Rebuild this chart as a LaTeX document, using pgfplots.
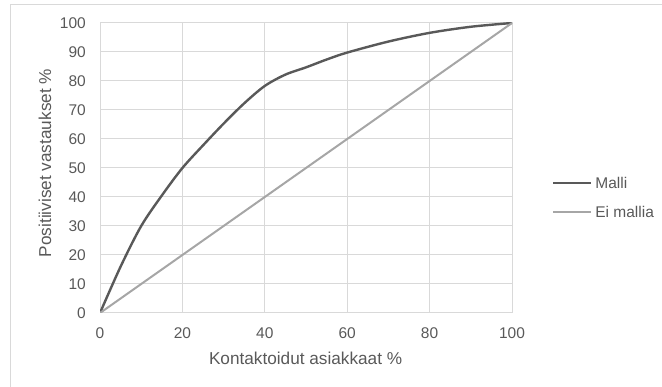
\documentclass[border=0pt]{standalone}
\usepackage{pgfplots}
\pgfplotsset{compat=1.18}
\usepackage{fontspec}
\setmainfont{Liberation Sans}

\definecolor{txt}{HTML}{595959}
\definecolor{gridc}{HTML}{D9D9D9}
\definecolor{malli}{HTML}{595959}
\definecolor{eimalli}{HTML}{A6A6A6}

\begin{document}
\begin{tikzpicture}[x=1pt,y=1pt]
  \path[use as bounding box] (0,0) rectangle (662,387);
  % chart area frame (left and top edges)
  \draw[gridc, line width=1pt] (10.5,0) -- (10.5,382.5) -- (662,382.5);

  \begin{axis}[
    at={(100pt,74pt)}, anchor=south west,
    scale only axis, width=412pt, height=290pt,
    xmin=0, xmax=100, ymin=0, ymax=100,
    xtick={0,20,...,100}, ytick={0,10,...,100},
    grid=major,
    major grid style={gridc, line width=1pt},
    axis line style={gridc, line width=1pt},
    major tick length=0pt,
    /pgf/number format/assume math mode=true,
    tick label style={font=\fontsize{15.5}{16}\selectfont, text=txt, inner sep=0pt},
    xticklabel shift=14pt,
    yticklabel shift=14pt,
    label style={font=\fontsize{17.2}{18}\selectfont, text=txt},
    xlabel={Kontaktoidut asiakkaat \%},
    ylabel={Positiiviset vastaukset \%},
    xlabel style={at={(axis description cs:0.499,-0.177)}, anchor=base},
    ylabel style={at={(axis description cs:-0.1335,0.517)}, anchor=center, rotate=0},
    legend style={
      at={(axis description cs:1.097,0.468)}, anchor=north west,
      draw=none, fill=none, inner sep=0pt, outer sep=0pt,
      font=\fontsize{15.5}{16}\selectfont, text=txt,
      row sep=18.4pt, column sep=3pt,
      nodes={inner sep=0pt, text height=11pt, text depth=0pt},
    },
    legend cell align=left,
    legend image code/.code={\draw[#1] (0pt,0pt) -- (38pt,0pt);},
  ]
    \addplot[malli, line width=2.4pt, smooth, tension=0.5] coordinates {
      (0,0) (5,16) (10,30) (15,40.5) (20,50) (25,57.8) (30,65.3)
      (35,72.3) (40,78.3) (45,82.2) (50,84.7) (55,87.4) (60,89.8)
      (70,93.6) (80,96.6) (90,98.7) (100,100)
    };
    \addlegendentry{Malli}
    \addplot[eimalli, line width=2pt] coordinates {(0,0) (100,100)};
    \addlegendentry{Ei mallia}
  \end{axis}
\end{tikzpicture}
\end{document}
